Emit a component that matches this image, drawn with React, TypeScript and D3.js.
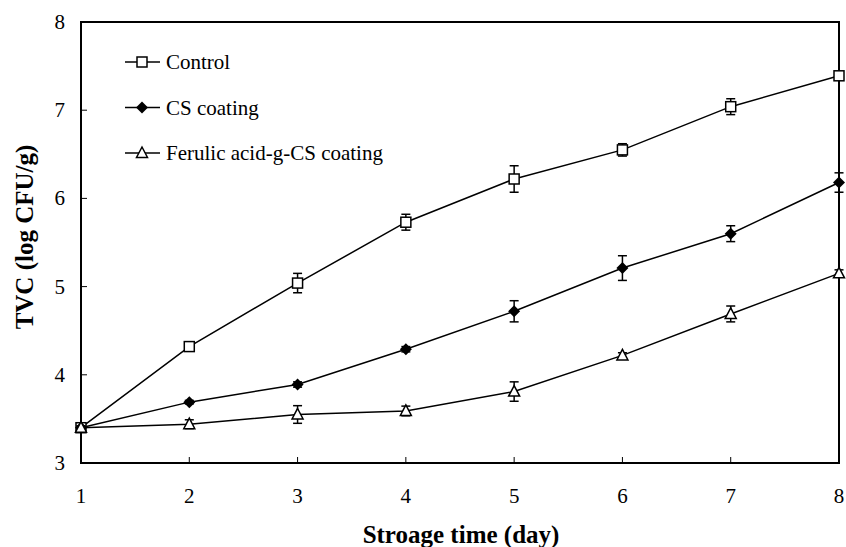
import React from 'react'
import * as d3 from 'd3'

const days = [1, 2, 3, 4, 5, 6, 7, 8]
const control = [3.4, 4.32, 5.04, 5.73, 6.22, 6.55, 7.04, 7.39]
const controlErr = [0.02, 0.03, 0.11, 0.09, 0.15, 0.07, 0.09, 0.03]
const csCoating = [3.4, 3.69, 3.89, 4.29, 4.72, 5.21, 5.6, 6.18]
const csErr = [0.02, 0.02, 0.03, 0.03, 0.12, 0.14, 0.09, 0.11]
const ferulic = [3.4, 3.44, 3.55, 3.59, 3.81, 4.22, 4.69, 5.15]
const ferulicErr = [0.02, 0.05, 0.1, 0.055, 0.11, 0.03, 0.09, 0.04]
const yTicks = [3, 4, 5, 6, 7, 8]
const seriesNames = ['Control', 'CS coating', 'Ferulic acid-g-CS coating']

const font = "'Liberation Serif', 'Times New Roman', serif"

function Marker({ kind, x, y }: { kind: string; x: number; y: number }) {
  if (kind === 'square')
    return <rect x={x - 5} y={y - 5} width={10} height={10} fill="white" stroke="black" strokeWidth={1.5} />
  if (kind === 'diamond')
    return <path d={`M${x},${y - 6}L${x + 6},${y}L${x},${y + 6}L${x - 6},${y}Z`} fill="black" />
  return <path d={`M${x},${y - 6}L${x + 5.5},${y + 4.5}L${x - 5.5},${y + 4.5}Z`} fill="white" stroke="black" strokeWidth={1.5} />
}

export default function App() {
  const width = 846,
    height = 547
  const x = d3.scaleLinear().domain([1, 8]).range([81, 839])
  const y = d3.scaleLinear().domain([3, 8]).range([463, 22])
  const line = d3.line<number>().x((d, i) => x(days[i])).y(d => y(d))

  const series = [
    { name: seriesNames[0], values: control, err: controlErr, kind: 'square' },
    { name: seriesNames[1], values: csCoating, err: csErr, kind: 'diamond' },
    { name: seriesNames[2], values: ferulic, err: ferulicErr, kind: 'triangle' },
  ]
  const txt = { fontFamily: font }

  return (
    <svg width={width} height={height} style={{ position: 'absolute', left: 0, top: 0, background: 'white' }}>
      {/* frame */}
      <rect x={x(1)} y={y(8)} width={x(8) - x(1)} height={y(3) - y(8)} fill="none" stroke="black" strokeWidth={2} />

      {yTicks.map(t => (
        <g key={t}>
          {t > 3 && t < 8 && <line x1={x(1)} x2={x(1) + 6} y1={y(t)} y2={y(t)} stroke="black" strokeWidth={1} />}
          <text style={txt} x={65} y={y(t) + 7} textAnchor="end" fontSize={21}>{t}</text>
        </g>
      ))}
      {days.map(d => (
        <g key={d}>
          {d > 1 && d < 8 && <line x1={x(d)} x2={x(d)} y1={y(3)} y2={y(3) - 6} stroke="black" strokeWidth={1} />}
          <text style={txt} x={x(d)} y={503} textAnchor="middle" fontSize={21}>{d}</text>
        </g>
      ))}

      <text style={txt} x={461} y={543} textAnchor="middle" fontSize={25} fontWeight="bold">Stroage time (day)</text>
      <text style={txt} transform={`translate(33,237) rotate(-90)`} textAnchor="middle" fontSize={25} fontWeight="bold">TVC (log CFU/g)</text>

      {series.map(s => (
        <g key={s.name}>
          <path d={line(s.values) || ''} fill="none" stroke="black" strokeWidth={1.5} />
          {s.values.map((v, i) => (
            <g key={i} stroke="black" strokeWidth={1.5}>
              <line x1={x(days[i])} x2={x(days[i])} y1={y(v - s.err[i])} y2={y(v + s.err[i])} />
              <line x1={x(days[i]) - 4.5} x2={x(days[i]) + 4.5} y1={y(v - s.err[i])} y2={y(v - s.err[i])} />
              <line x1={x(days[i]) - 4.5} x2={x(days[i]) + 4.5} y1={y(v + s.err[i])} y2={y(v + s.err[i])} />
            </g>
          ))}
          {s.values.map((v, i) => (
            <Marker key={'m' + i} kind={s.kind} x={x(days[i])} y={y(v)} />
          ))}
        </g>
      ))}

      {series.map((s, i) => {
        const ly = 62 + i * 45.5
        return (
          <g key={'leg' + i}>
            <line x1={125} x2={160} y1={ly} y2={ly} stroke="black" strokeWidth={1.5} />
            <Marker kind={s.kind} x={142} y={ly} />
            <text style={txt} x={166} y={ly + 7} fontSize={21}>{s.name}</text>
          </g>
        )
      })}
    </svg>
  )
}
